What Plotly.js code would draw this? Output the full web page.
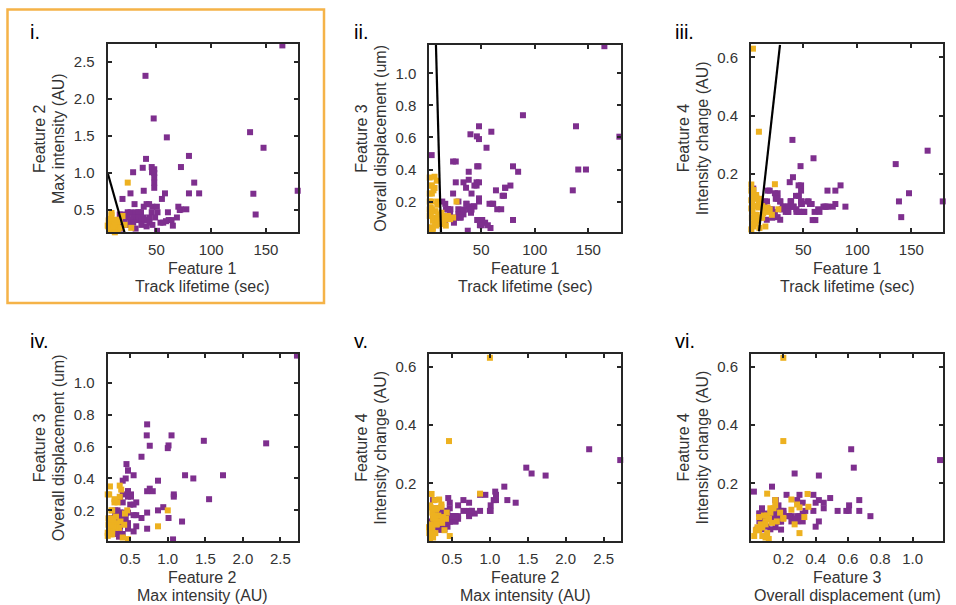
<!DOCTYPE html>
<html>
<head>
<meta charset="utf-8">
<script src="https://cdn.plot.ly/plotly-3.0.1.min.js"></script>
<style>
html, body { margin: 0; padding: 0; background: #fff; }
#chart { width: 956px; height: 605px; }
</style>
</head>
<body>
<div id="chart"></div>
<script>
// Track features for the two classes:
// F1 = track lifetime (sec), F2 = max intensity (AU),
// F3 = overall displacement (um), F4 = intensity change (AU)
const purpleF1 = [165, 40, 47.5, 59.5, 135.5, 147.8, 40.5, 79.7, 37.5, 45.7,
  72.4, 48, 46, 48, 28.7, 48, 48, 84.5, 48, 38.4,
  57.8, 79.7, 89, 26.3, 138.5, 179, 55, 19, 140.6, 30,
  41, 43.3, 38.4, 46.3, 50.4, 70, 72.4, 77.3, 35.9, 45.7,
  51, 60.5, 23.8, 26.3, 31.1, 33.5, 16.5, 19, 23.8, 28.7,
  33.5, 38.4, 43.7, 48.8, 61.2, 63.8, 26.3, 33.8, 36.2, 38.8,
  65, 53.7, 50.5, 56.2, 58.7, 13.7, 14.7, 21.3, 3.8, 28.8,
  36.3, 43.7, 68.7, 71.3, 16.3, 21, 24.6, 46.3, 41, 17.2, 31];
const purpleF2 = [2.72, 2.31, 1.735, 1.48, 1.55, 1.34, 1.19, 1.23, 1.07, 1.08,
  1.08, 1.05, 1.01, 1.00, 1.01, 0.94, 0.87, 0.87, 0.80, 0.76,
  0.725, 0.725, 0.725, 0.725, 0.72, 0.76, 0.65, 0.65, 0.44, 0.58,
  0.58, 0.58, 0.545, 0.545, 0.545, 0.545, 0.51, 0.51, 0.47, 0.47,
  0.47, 0.47, 0.47, 0.47, 0.47, 0.47, 0.44, 0.44, 0.40, 0.40,
  0.40, 0.40, 0.40, 0.40, 0.365, 0.365, 0.365, 0.365, 0.365, 0.365,
  0.29, 0.33, 0.22, 0.33, 0.35, 0.30, 0.36, 0.30, 0.45, 0.33,
  0.30, 0.33, 0.40, 0.50, 0.33, 0.38, 0.30, 0.30, 0.28, 0.25, 0.25];
const purpleF3 = [1.17, 0.62, 0.42, 0.636, 0.27, 0.40, 0.13, 0.42, 0.018, 0.30,
  0.286, 0.67, 0.607, 0.59, 0.152, 0.22, 0.20, 0.386, 0.32, 0.336,
  0.186, 0.085, 0.739, 0.32, 0.67, 0.605, 0.536, 0.152, 0.40, 0.10,
  0.25, 0.17, 0.17, 0.42, 0.068, 0.236, 0.286, 0.30, 0.286, 0.32,
  0.085, 0.186, 0.45, 0.45, 0.12, 0.32, 0.186, 0.152, 0.25, 0.12,
  0.12, 0.386, 0.30, 0.052, 0.186, 0.27, 0.10, 0.15, 0.186, 0.15,
  0.152, 0.068, 0.052, 0.052, 0.035, 0.20, 0.068, 0.152, 0.49, 0.20,
  0.186, 0.17, 0.152, 0.236, 0.068, 0.12, 0.068, 0.085, 0.15, 0.152, 0.10];
const purpleF4 = [0.28, 0.317, 0.227, 0.254, 0.234, 0.134, 0.189, 0.143, 0.172, 0.161,
  0.143, 0.143, 0.125, 0.106, 0.106, 0.161, 0.106, 0.161, 0.097, 0.106,
  0.097, 0.097, 0.088, 0.134, 0.106, 0.106, 0.106, 0.143, 0.052, 0.079,
  0.088, 0.125, 0.088, 0.07, 0.07, 0.088, 0.088, 0.088, 0.07, 0.07,
  0.07, 0.07, 0.134, 0.115, 0.088, 0.088, 0.106, 0.079, 0.07, 0.043,
  0.088, 0.106, 0.079, 0.097, 0.042, 0.079, 0.052, 0.07, 0.088, 0.106,
  0.07, 0.106, 0.07, 0.097, 0.042, 0.097, 0.106, 0.05, 0.15, 0.106,
  0.07, 0.07, 0.088, 0.088, 0.043, 0.079, 0.115, 0.07, 0.088, 0.143, 0.079];

const orangeF1 = [3.5, 9, 23.8, 27, 2, 6.5, 4, 6.5, 2, 4,
  2, 9, 2, 4, 10, 12, 14, 16.5, 19, 21,
  3, 5, 7, 2.5, 8, 4, 6, 11, 13, 3,
  5, 2, 7.3, 9.5, 15, 17, 3, 5.5, 8.5, 12];
const orangeF2 = [1.00, 0.46, 0.87, 0.26, 0.23, 0.36, 0.22, 0.36, 0.29, 0.33,
  0.25, 0.43, 0.27, 0.21, 0.30, 0.32, 0.28, 0.35, 0.42, 0.30,
  0.24, 0.26, 0.22, 0.20, 0.24, 0.47, 0.28, 0.23, 0.37, 0.31,
  0.40, 0.21, 0.27, 0.25, 0.22, 0.26, 0.20, 0.29, 0.38, 0.20];
const orangeF3 = [0.20, 0.20, 0.10, 0.20, 0.35, 0.355, 0.30, 0.285, 0.25, 0.25,
  0.20, 0.18, 0.15, 0.15, 0.12, 0.10, 0.11, 0.09, 0.11, 0.09,
  0.12, 0.08, 0.06, 0.04, 0.05, 0.02, 0.10, 0.07, 0.13, 0.16,
  0.03, 0.11, 0.14, 0.09, 0.07, 0.05, 0.30, 0.27, 0.33, 0.06];
const orangeF4 = [0.63, 0.345, 0.165, 0.079, 0.164, 0.12, 0.118, 0.128, 0.11, 0.145,
  0.082, 0.10, 0.143, 0.125, 0.115, 0.09, 0.079, 0.07, 0.079, 0.06,
  0.10, 0.09, 0.06, 0.05, 0.04, 0.02, 0.03, 0.05, 0.065, 0.07,
  0.04, 0.01, 0.115, 0.015, 0.02, 0.085, 0.03, 0.06, 0.085, 0.05];

// Linear decision boundaries in the three lifetime panels
const boundaryF1F2 = { x: [5.5, 20.8], y: [1.0, 0.2] };
const boundaryF1F3 = { x: [7.8, 12.5], y: [1.18, 0.008] };
const boundaryF1F4 = { x: [9.1, 28.5], y: [0.003, 0.643] };

const featureNames = ['Feature 1', 'Feature 2', 'Feature 3', 'Feature 4'];
const featureUnits = ['Track lifetime (sec)', 'Max intensity (AU)',
  'Overall displacement (um)', 'Intensity change (AU)'];
const featureTicks = [[50, 100, 150], [0.5, 1, 1.5, 2, 2.5],
  [0.2, 0.4, 0.6, 0.8, 1.0], [0.2, 0.4, 0.6]];
const featureTickText = [['50', '100', '150'], ['0.5', '1.0', '1.5', '2.0', '2.5'],
  ['0.2', '0.4', '0.6', '0.8', '1.0'], ['0.2', '0.4', '0.6']];
const panelLabels = ['i.', 'ii.', 'iii.', 'iv.', 'v.', 'vi.'];

const purple = [purpleF1, purpleF2, purpleF3, purpleF4];
const orange = [orangeF1, orangeF2, orangeF3, orangeF4];

const W = 956, H = 605;
const PURPLE = '#7E2F8E', ORANGE = '#EDB120', AXIS = '#262626', TEXT = '#333333';
const FONT = 'Liberation Sans, Arial, Helvetica, sans-serif';
const TICK_SIZE = 15, TITLE_SIZE = 16;

// Panel layout in pixels: [left, right, top, bottom]
const panels = [
  { xf: 0, yf: 1, box: [107.7, 297.7, 44.3, 232.3], xr: [5.5, 179], yr: [0.2, 2.735], boundary: boundaryF1F2 },
  { xf: 0, yf: 2, box: [429.3, 621, 44.6, 232.3], xr: [1.6, 180.5], yr: [0.008, 1.18], boundary: boundaryF1F3 },
  { xf: 0, yf: 3, box: [751, 943.3, 44.3, 232.3], xr: [1.7, 179.5], yr: [0.0, 0.645], boundary: boundaryF1F4 },
  { xf: 1, yf: 2, box: [107.7, 297.7, 354, 541], xr: [0.2, 2.73], yr: [0.008, 1.18] },
  { xf: 1, yf: 3, box: [429.3, 621, 354, 541], xr: [0.2, 2.73], yr: [0.003, 0.643] },
  { xf: 2, yf: 3, box: [751, 943.3, 354, 541], xr: [0.0, 1.19], yr: [0.003, 0.643] }
];
const labelLeft = [28, 351.5, 673];   // panel label x per column
const labelTop = [32, 341];           // panel label y per row

const px = v => v / W;
const py = v => 1 - v / H;

const traces = [];
const layout = {
  width: W, height: H,
  margin: { l: 0, r: 0, t: 0, b: 0 },
  paper_bgcolor: '#fff', plot_bgcolor: '#fff',
  showlegend: false,
  font: { family: FONT, color: TEXT, size: TICK_SIZE },
  annotations: [],
  shapes: [
    // highlight frame around the first panel
    { type: 'rect', xref: 'paper', yref: 'paper',
      x0: px(7.5), x1: px(324), y0: py(303), y1: py(9.5),
      line: { color: '#F5B348', width: 2.5 } }
  ]
};

function axisStyle(feature, domain, range, standoff) {
  return {
    domain: domain, range: range, autorange: false,
    showgrid: false, zeroline: false,
    showline: true, linecolor: AXIS, linewidth: 2, mirror: 'ticks',
    ticks: 'inside', ticklen: 4, tickwidth: 2, tickcolor: AXIS,
    tickvals: featureTicks[feature], ticktext: featureTickText[feature],
    tickfont: { family: FONT, size: TICK_SIZE, color: TEXT },
    ticklabelstandoff: standoff,
    fixedrange: true
  };
}

panels.forEach((p, i) => {
  const n = i + 1;
  const sfx = n === 1 ? '' : String(n);
  const xa = 'x' + sfx, ya = 'y' + sfx;
  const [L, R, T, B] = p.box;

  layout['xaxis' + sfx] = Object.assign(
    axisStyle(p.xf, [px(L), px(R)], p.xr, 3), { anchor: ya });
  layout['yaxis' + sfx] = Object.assign(
    axisStyle(p.yf, [py(B), py(T)], p.yr, 8), { anchor: xa });

  traces.push({
    type: 'scatter', mode: 'markers', xaxis: xa, yaxis: ya,
    x: purple[p.xf], y: purple[p.yf], cliponaxis: false,
    marker: { symbol: 'square', size: 6, color: PURPLE, line: { width: 0 } },
    hoverinfo: 'skip'
  });
  traces.push({
    type: 'scatter', mode: 'markers', xaxis: xa, yaxis: ya,
    x: orange[p.xf], y: orange[p.yf], cliponaxis: false,
    marker: { symbol: 'square', size: 6, color: ORANGE, line: { width: 0 } },
    hoverinfo: 'skip'
  });
  if (p.boundary) {
    traces.push({
      type: 'scatter', mode: 'lines', xaxis: xa, yaxis: ya,
      x: p.boundary.x, y: p.boundary.y,
      line: { color: '#000', width: 2.2 }, hoverinfo: 'skip'
    });
  }

  const cx = (L + R) / 2, cy = (T + B) / 2;
  const ann = (x, y, text, extra) => Object.assign({
    xref: 'paper', yref: 'paper', x: px(x), y: py(y), text: text,
    showarrow: false, xanchor: 'center', yanchor: 'middle',
    font: { family: FONT, size: TITLE_SIZE, color: TEXT }
  }, extra || {});

  // x-axis title (two lines)
  layout.annotations.push(ann(cx, B + 36.5, featureNames[p.xf]));
  layout.annotations.push(ann(cx, B + 54.5, featureUnits[p.xf]));
  // y-axis title (two lines, rotated)
  layout.annotations.push(ann(L - 68, cy, featureNames[p.yf], { textangle: -90 }));
  layout.annotations.push(ann(L - 49, cy, featureUnits[p.yf], { textangle: -90 }));
  // panel label
  layout.annotations.push(ann(labelLeft[i % 3], labelTop[i < 3 ? 0 : 1], panelLabels[i], {
    xanchor: 'left', font: { family: FONT, size: 20, color: '#000' }
  }));
});

Plotly.newPlot('chart', traces, layout, { staticPlot: true, displayModeBar: false });
</script>
</body>
</html>
